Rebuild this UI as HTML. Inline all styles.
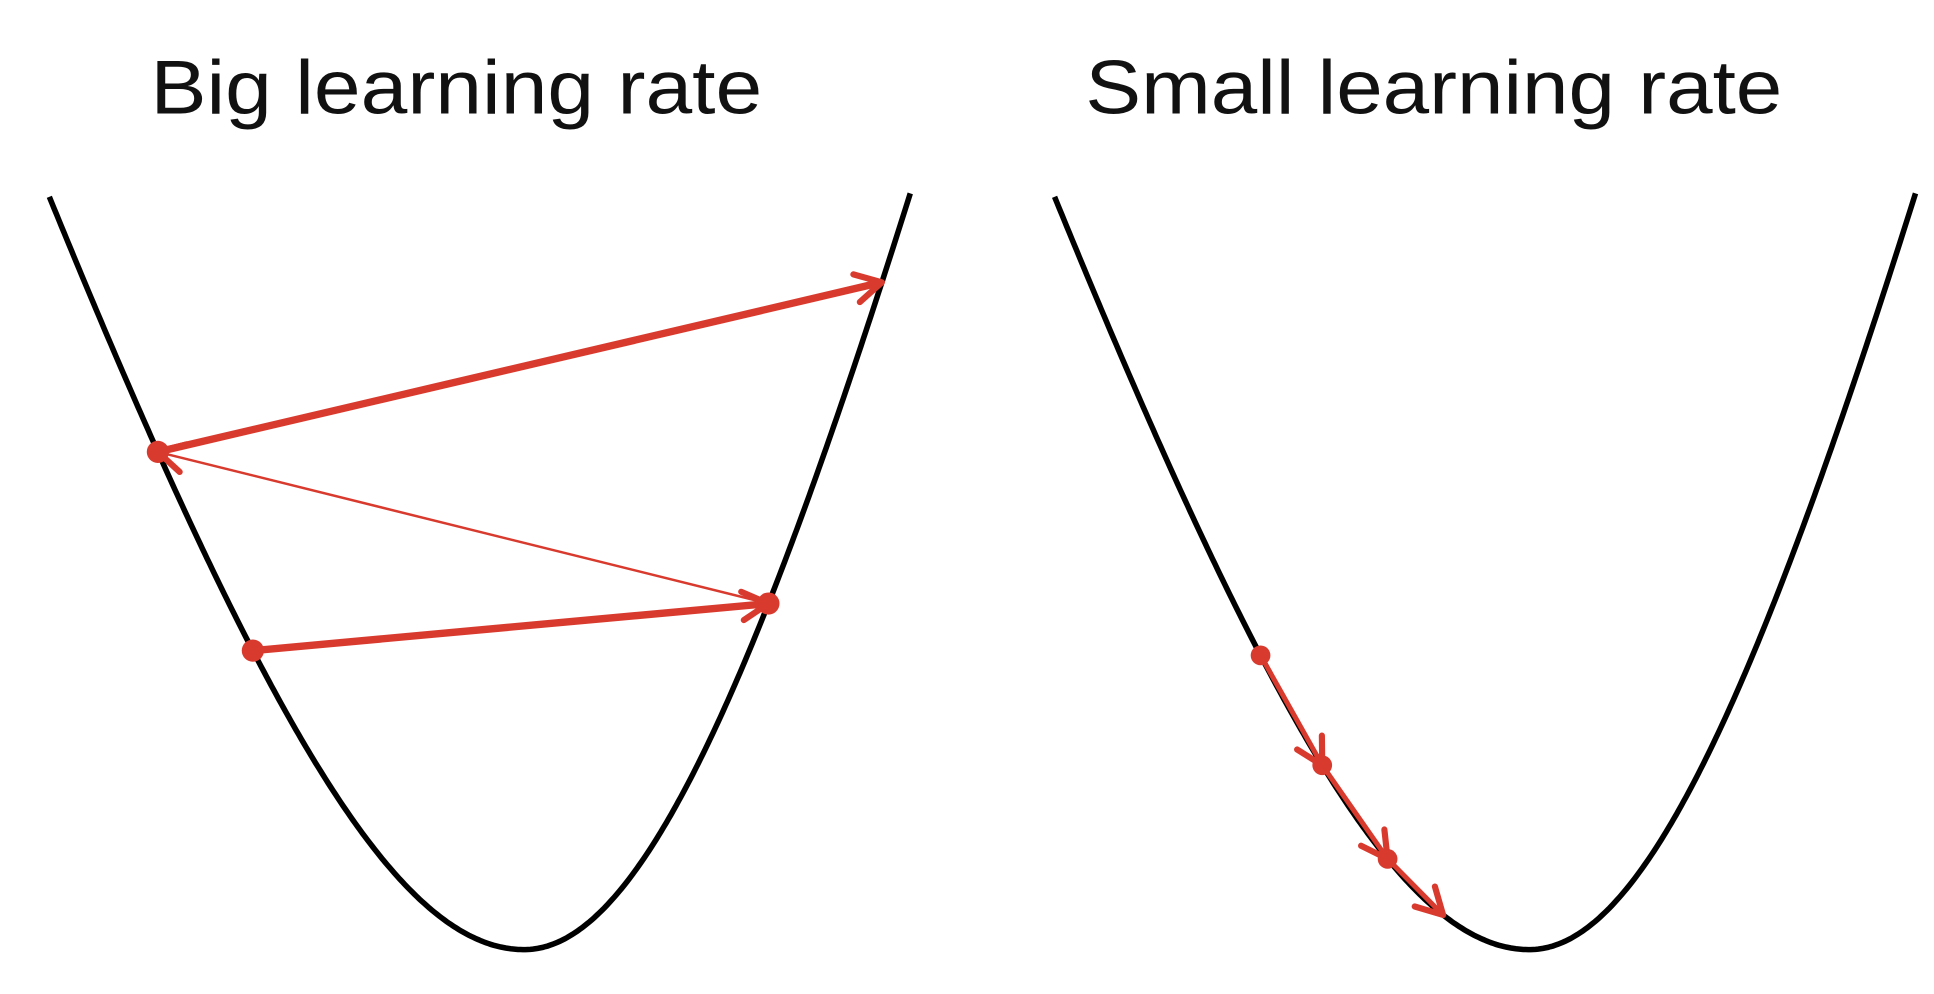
<!DOCTYPE html>
<html><head><meta charset="utf-8"><style>
html,body{margin:0;padding:0;background:#fff;}
svg{display:block;}
</style></head><body>
<svg id="chart" width="1934" height="994" viewBox="0 0 1568 806" preserveAspectRatio="none" xmlns="http://www.w3.org/2000/svg">
<text x="122" y="92" textLength="496" lengthAdjust="spacingAndGlyphs" font-family="Liberation Sans, sans-serif" font-size="62" fill="#111">Big learning rate</text>
<text x="880" y="92" textLength="565" lengthAdjust="spacingAndGlyphs" font-family="Liberation Sans, sans-serif" font-size="62" fill="#111">Small learning rate</text>
<g id="plots"></g>
</svg>
<script>
// Step positions as horizontal offsets from the minimum (display units)
const bigSteps = [-220, 198, -297, 290];
const smallSteps = [-218, -168, -115, -70];
const bigWidths = [6, 2, 6];
const smallWidths = [4, 4, 4];

const NS = "http://www.w3.org/2000/svg";
const g = document.getElementById("plots");
const red = "#d93a2e";
function curveY(dx){ // loss curve
  const c = 250;
  const k = dx < 0 ? 730 : 1018;
  return 770 - k * (Math.sqrt(1 + (dx/c)*(dx/c)) - 1);
}
function drawCurve(cx, name){
  let d = "";
  for (let dx = -385; dx <= 313; dx += 2) {
    d += (d ? "L" : "M") + (cx + dx).toFixed(1) + "," + curveY(dx).toFixed(1);
  }
  const p = document.createElementNS(NS, "path");
  p.setAttribute("d", d);
  p.setAttribute("fill", "none");
  p.setAttribute("stroke", "#000");
  p.setAttribute("stroke-width", "4.5");
  
  
  g.appendChild(p);
}
function arrow(x1,y1,x2,y2,w,name){
  const l = document.createElementNS(NS, "line");
  l.setAttribute("x1",x1);l.setAttribute("y1",y1);l.setAttribute("x2",x2);l.setAttribute("y2",y2);
  l.setAttribute("stroke",red);l.setAttribute("stroke-width",w);
  
  
  g.appendChild(l);
  const a = Math.atan2(y2-y1,x2-x1), L = 24, s = 0.5;
  const h = document.createElementNS(NS, "polyline");
  h.setAttribute("points", (x2-L*Math.cos(a-s))+","+(y2-L*Math.sin(a-s))+" "+x2+","+y2+" "+(x2-L*Math.cos(a+s))+","+(y2-L*Math.sin(a+s)));
  h.setAttribute("fill","none");h.setAttribute("stroke",red);h.setAttribute("stroke-width",5);
  h.setAttribute("stroke-linecap","round");h.setAttribute("stroke-linejoin","round");
  
  
  g.appendChild(h);
}
function dot(x,y,r,name){
  const c = document.createElementNS(NS, "circle");
  c.setAttribute("cx",x);c.setAttribute("cy",y);c.setAttribute("r",r);c.setAttribute("fill",red);
  
  
  g.appendChild(c);
}
function drawSteps(cx, steps, widths, prefix, r){
  for (let i = 0; i < steps.length - 1; i++) {
    const x1 = cx + steps[i], y1 = curveY(steps[i]);
    const x2 = cx + steps[i+1], y2 = curveY(steps[i+1]);
    arrow(x1,y1,x2,y2,widths[i], prefix + "-step-" + (i+1));
  }
  for (let i = 0; i < steps.length - 1; i++) {
    dot(cx + steps[i], curveY(steps[i]), r, prefix + "-point-" + (i+1));
  }
}
drawCurve(425, "big-lr-loss-curve");
drawCurve(1240, "small-lr-loss-curve");
drawSteps(425, bigSteps, bigWidths, "big-lr", 9);
drawSteps(1240, smallSteps, smallWidths, "small-lr", 8);
</script>
</body></html>
